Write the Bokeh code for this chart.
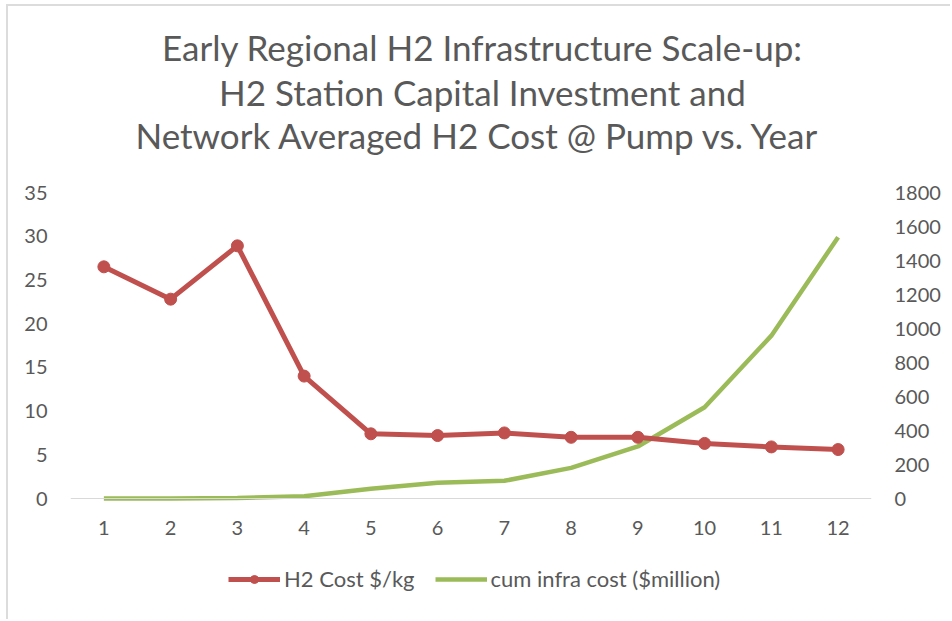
from bokeh.plotting import figure
from bokeh.models import (Range1d, LinearAxis, FixedTicker, Label, Legend, LegendItem)
from bokeh.embed import file_html
from bokeh.resources import INLINE

years = [1, 2, 3, 4, 5, 6, 7, 8, 9, 10, 11, 12]
h2_cost = [26.5, 22.8, 28.9, 14.0, 7.4, 7.2, 7.5, 7.0, 7.0, 6.3, 5.9, 5.6]
cum_infra = [0, 0, 3, 13, 57, 92, 104, 180, 306, 537, 958, 1537]
left_ticks = [0, 5, 10, 15, 20, 25, 30, 35]
right_ticks = [0, 200, 400, 600, 800, 1000, 1200, 1400, 1600, 1800]
title_lines = ["Early Regional H2 Infrastructure Scale-up:",
               "H2 Station Capital Investment and",
               "Network Averaged H2 Cost @ Pump  vs. Year"]

FONT = "Lato"
GRAY = "#595959"
RED = "#C0504D"
GREEN = "#9BBB59"

# geometry (pixels): frame spans whole height; the plot area proper is 192..498
FRAME_H = 619
PLOT_TOP, PLOT_BOTTOM = 192, 498
left_max, right_max = left_ticks[-1], right_ticks[-1]
lpx = (PLOT_BOTTOM - PLOT_TOP) / left_max
rpx = (PLOT_BOTTOM - PLOT_TOP) / right_max
y_left = Range1d(-(FRAME_H - PLOT_BOTTOM) / lpx, PLOT_BOTTOM / lpx)
y_right = Range1d(-(FRAME_H - PLOT_BOTTOM) / rpx, PLOT_BOTTOM / rpx)

p = figure(frame_width=801, frame_height=FRAME_H, output_backend="svg", toolbar_location=None,
           x_range=Range1d(0.5, 12.5), y_range=y_left,
           min_border_left=70, min_border_right=79, min_border_top=0, min_border_bottom=0,
           styles={"box-shadow": "inset 6px 4px 0 0 white, inset 8px 6px 0 0 #DCDCDC"})
p.extra_y_ranges = {"infra": y_right}
p.outline_line_color = None
p.xgrid.grid_line_color = None
p.ygrid.grid_line_color = None
p.background_fill_color = None
p.border_fill_color = None

# axes
p.xaxis.fixed_location = 0
p.xaxis.ticker = FixedTicker(ticks=years)
p.xaxis.axis_line_color = "#D9D9D9"
p.xaxis.axis_line_width = 1
p.xaxis.major_tick_line_color = None
p.xaxis.minor_tick_line_color = None
p.xaxis.major_label_standoff = 16
p.yaxis.ticker = FixedTicker(ticks=left_ticks)
p.yaxis.axis_line_color = None
p.yaxis.major_tick_line_color = None
p.yaxis.minor_tick_line_color = None
p.yaxis.major_label_standoff = 17

ax_r = LinearAxis(y_range_name="infra", ticker=FixedTicker(ticks=right_ticks))
ax_r.axis_line_color = None
ax_r.major_tick_line_color = None
ax_r.minor_tick_line_color = None
ax_r.major_label_standoff = 17
p.add_layout(ax_r, "right")

for ax in [p.xaxis[0], p.yaxis[0], ax_r]:
    ax.major_label_text_font = FONT
    ax.major_label_text_font_size = "20px"
    ax.major_label_text_color = GRAY

# series
g_line = p.line(years, cum_infra, y_range_name="infra", line_color=GREEN, line_width=4.5)
r_line = p.line(years, h2_cost, line_color=RED, line_width=5)
r_pts = p.scatter(years, h2_cost, size=12, fill_color=RED, line_color=RED)

# title (screen units relative to frame bottom-left)
for txt, yy in zip(title_lines, [573, 528, 485]):
    p.add_layout(Label(x=412, y=yy, x_units="screen", y_units="screen", text=txt,
                       text_align="center", text_baseline="middle",
                       text_font=FONT, text_font_size="35px", text_color=GRAY))

legend = Legend(items=[LegendItem(label="H2 Cost $/kg", renderers=[r_line, r_pts]),
                       LegendItem(label="cum infra cost ($million)", renderers=[g_line])],
                location=(158, 27), orientation="horizontal",
                glyph_width=52, glyph_height=20, label_standoff=4, spacing=20,
                padding=0, margin=0, border_line_color=None, background_fill_alpha=0,
                label_text_font=FONT, label_text_font_size="22px", label_text_color=GRAY)
p.add_layout(legend, "center")

open("out.html", "w").write(file_html(p, INLINE))
